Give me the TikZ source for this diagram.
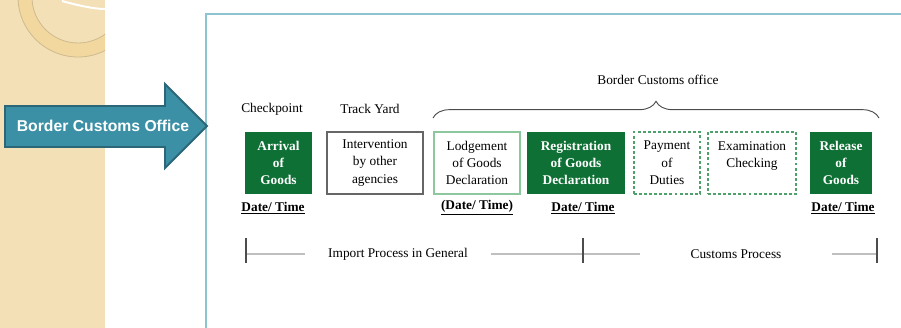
\documentclass[tikz,border=0pt]{standalone}
\usepackage{fontspec}
\setmainfont{Liberation Serif}
\newfontfamily\arrowfont{Liberation Sans}
\usetikzlibrary{decorations.pathreplacing}
\definecolor{panelbeige}{HTML}{F3E0B6}
\definecolor{ringband}{HTML}{F2D89E}
\definecolor{ringline}{HTML}{CDBA90}
\definecolor{arrowteal}{HTML}{3B90A6}
\definecolor{arrowedge}{HTML}{2B6777}
\definecolor{framecol}{HTML}{8CC4D0}
\definecolor{goodsgreen}{HTML}{0E7034}
\definecolor{palegreen}{HTML}{8CC79E}
\definecolor{dashgreen}{HTML}{4FA06A}
\begin{document}
\begin{tikzpicture}[x=0.75pt,y=-0.75pt,
  every node/.style={font=\fontsize{10}{13}\selectfont},
  box/.style={minimum width=#1*0.75pt,minimum height=62*0.75pt,align=center,inner sep=0pt},
  greenbox/.style={box=#1,fill=goodsgreen,text=white,font=\fontsize{10}{13}\selectfont\bfseries},
  graybox/.style={box=#1,draw=black!60,line width=1.2pt},
  paleboxe/.style={box=#1,draw=palegreen,line width=0.9pt},
  dashbox/.style={box=#1,draw=dashgreen,line width=0.8pt,dash pattern=on 2.2pt off 1.6pt},
  datelbl/.style={font=\fontsize{10}{13}\selectfont\bfseries},
  timeline/.style={draw=black!25,line width=1.4pt},
  tickmark/.style={draw=black!70,line width=1.1pt}]
\useasboundingbox (0,0) rectangle (901,328);
% left panel
\fill[panelbeige] (0,0) rectangle (105,328);
\begin{scope}
\clip (0,0) rectangle (105,328);
\fill[ringband,even odd rule] (78,-3) circle (60) (78,-3) circle (46);
\draw[ringline,line width=0.6pt] (78,-3) circle (60);
\draw[ringline,line width=0.6pt] (78,-3) circle (46);
\draw[white,line width=1.5pt] (62,1) .. controls (80,6) and (95,9) .. (105,9);
\end{scope}
% frame
\draw[framecol,line width=1.3pt] (206,328)--(206,14)--(901,14);
% arrow
\draw[fill=arrowteal,draw=arrowedge,line width=1.4pt,line join=miter]
  (5,106)--(165,106)--(165,84)--(207,126)--(165,168)--(165,147)--(5,147)--cycle;
\node at (103,126)[text=white,font=\arrowfont\fontsize{11.8}{14}\selectfont\bfseries] (bco) {Border Customs Office};
% top labels
\node at (272,109) (chk) {Checkpoint};
\node at (370,109) (yard) {Track Yard};
\node at (658,80) (office) {Border Customs office};
\draw[black!70,line width=0.7pt,decorate,decoration={brace,amplitude=12.5pt}] (433,118)--(879,118);
% boxes
\node at (278.5,163)[greenbox=67] (arrival) {Arrival\\of\\Goods};
\node at (375,163)[graybox=96] (interv) {Intervention\\by other\\agencies};
\node at (477,163)[paleboxe=86] (lodge) {Lodgement\\of Goods\\Declaration};
\node at (576,163)[greenbox=98] (regist) {Registration\\of Goods\\Declaration};
\node at (667,163)[dashbox=66] (pay) {Payment\\of\\Duties};
\node at (752,163)[dashbox=88] (exam) {Examination\\Checking\\\phantom{X}};
\node at (841,163)[greenbox=62] (release) {Release\\of\\Goods};
% date labels
\node at (273,208)[datelbl] (date1) {\underline{Date/ Time}};
\node at (477,208)[datelbl] (date2) {\underline{(Date/ Time)}};
\node at (583,208)[datelbl] (date3) {\underline{Date/ Time}};
\node at (843,208)[datelbl] (date4) {\underline{Date/ Time}};
% time line
\coordinate (t1) at (246,254);
\coordinate (t2) at (583,254);
\coordinate (t3) at (877,254);
\node at (398,254)[inner xsep=17pt] (imp) {Import Process in General};
\node at (736,254)[inner xsep=37.5pt] (cus) {Customs Process};
\draw[timeline] (t1)--(imp)--(t2)--(cus)--(t3);
\foreach \t in {t1,t2,t3}
  \draw[tickmark] (\t)++(0,-16)--++(0,25);
\end{tikzpicture}
\end{document}
